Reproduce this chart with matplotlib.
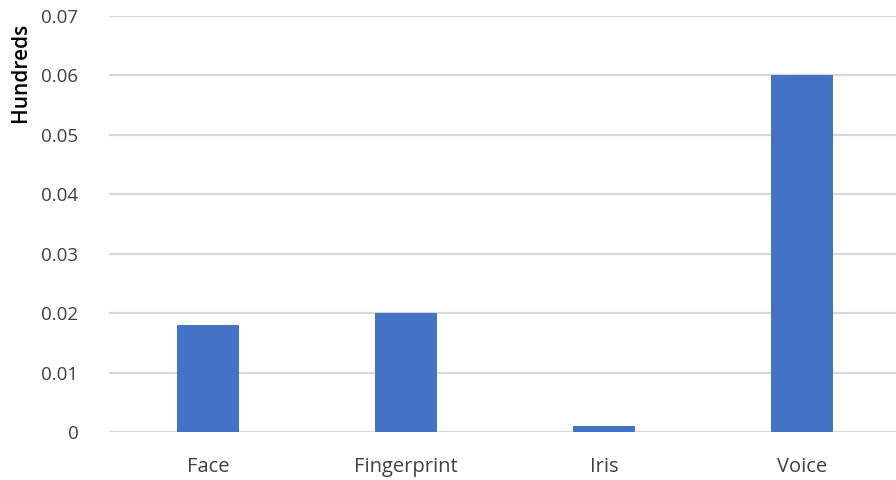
import matplotlib.pyplot as plt
import numpy as np

plt.rcParams['font.family'] = ['Open Sans', 'DejaVu Sans']

# Data
categories = ["Face", "Fingerprint", "Iris", "Voice"]
values = [0.018, 0.020, 0.001, 0.060]
y_ticks = [0, 0.01, 0.02, 0.03, 0.04, 0.05, 0.06, 0.07]
y_tick_labels = ["0", "0.01", "0.02", "0.03", "0.04", "0.05", "0.06", "0.07"]

fig = plt.figure(figsize=(8.96, 4.8), dpi=100)
ax = fig.add_axes([109 / 896, 48 / 480, (896 - 109) / 896, (432 - 16) / 480])

x = np.arange(len(categories))
ax.bar(x, values, width=0.31, color='#4472C4', zorder=3)

ax.set_xlim(-0.5, 3.475)
ax.set_ylim(0, 0.07)
ax.set_yticks(y_ticks)
ax.set_yticklabels(y_tick_labels)
ax.set_xticks(x)
ax.set_xticklabels(categories)

ax.grid(axis='y', color='#d9d9d9', linewidth=1.6, zorder=0)
ax.set_axisbelow(True)
for side in ['top', 'right', 'left', 'bottom']:
    ax.spines[side].set_visible(False)
ax.tick_params(axis='both', length=0, colors='#404040')
ax.tick_params(axis='y', pad=22, labelsize=13.5)
ax.tick_params(axis='x', pad=18, labelsize=14.5)

ax.set_ylabel("Hundreds", fontsize=15, fontweight='semibold', color='#000000')
ax.yaxis.set_label_coords(-78 / 787, 0.865)

fig.savefig("out.png", dpi=100)
